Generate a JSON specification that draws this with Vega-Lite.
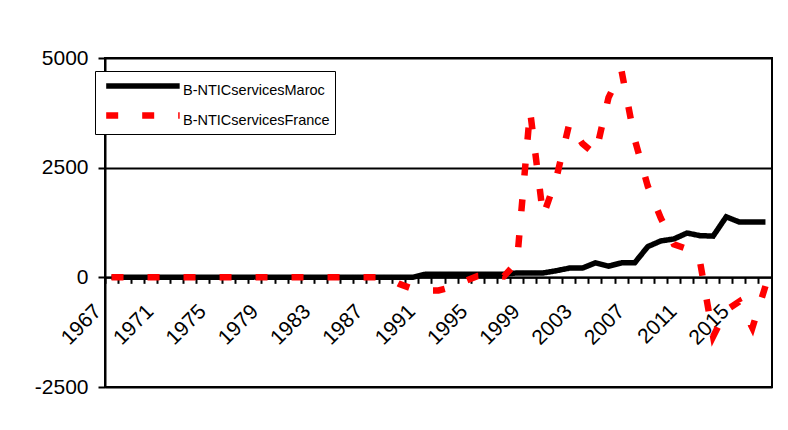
{
  "$schema": "https://vega.github.io/schema/vega-lite/v6.json",
  "width": 667,
  "height": 329,
  "autosize": {"type": "none"},
  "padding": {"left": 105, "top": 58, "right": 16, "bottom": 43},
  "background": "white",
  "config": {
    "view": {"stroke": "black", "strokeWidth": 2},
    "font": "Liberation Sans",
    "axis": {"labelFont": "Liberation Sans", "labelColor": "black", "domainColor": "black", "tickColor": "black"}
  },
  "data": {
    "values": [
      {"year": "1967", "series": "B-NTICservicesMaroc", "value": 0},
      {"year": "1968", "series": "B-NTICservicesMaroc", "value": 0},
      {"year": "1969", "series": "B-NTICservicesMaroc", "value": 0},
      {"year": "1970", "series": "B-NTICservicesMaroc", "value": 0},
      {"year": "1971", "series": "B-NTICservicesMaroc", "value": 0},
      {"year": "1972", "series": "B-NTICservicesMaroc", "value": 0},
      {"year": "1973", "series": "B-NTICservicesMaroc", "value": 0},
      {"year": "1974", "series": "B-NTICservicesMaroc", "value": 0},
      {"year": "1975", "series": "B-NTICservicesMaroc", "value": 0},
      {"year": "1976", "series": "B-NTICservicesMaroc", "value": 0},
      {"year": "1977", "series": "B-NTICservicesMaroc", "value": 0},
      {"year": "1978", "series": "B-NTICservicesMaroc", "value": 0},
      {"year": "1979", "series": "B-NTICservicesMaroc", "value": 0},
      {"year": "1980", "series": "B-NTICservicesMaroc", "value": 0},
      {"year": "1981", "series": "B-NTICservicesMaroc", "value": 0},
      {"year": "1982", "series": "B-NTICservicesMaroc", "value": 0},
      {"year": "1983", "series": "B-NTICservicesMaroc", "value": 0},
      {"year": "1984", "series": "B-NTICservicesMaroc", "value": 0},
      {"year": "1985", "series": "B-NTICservicesMaroc", "value": 0},
      {"year": "1986", "series": "B-NTICservicesMaroc", "value": 0},
      {"year": "1987", "series": "B-NTICservicesMaroc", "value": 0},
      {"year": "1988", "series": "B-NTICservicesMaroc", "value": 0},
      {"year": "1989", "series": "B-NTICservicesMaroc", "value": 0},
      {"year": "1990", "series": "B-NTICservicesMaroc", "value": 0},
      {"year": "1991", "series": "B-NTICservicesMaroc", "value": 70},
      {"year": "1992", "series": "B-NTICservicesMaroc", "value": 70},
      {"year": "1993", "series": "B-NTICservicesMaroc", "value": 70},
      {"year": "1994", "series": "B-NTICservicesMaroc", "value": 70},
      {"year": "1995", "series": "B-NTICservicesMaroc", "value": 70},
      {"year": "1996", "series": "B-NTICservicesMaroc", "value": 70},
      {"year": "1997", "series": "B-NTICservicesMaroc", "value": 70},
      {"year": "1998", "series": "B-NTICservicesMaroc", "value": 100},
      {"year": "1999", "series": "B-NTICservicesMaroc", "value": 100},
      {"year": "2000", "series": "B-NTICservicesMaroc", "value": 100},
      {"year": "2001", "series": "B-NTICservicesMaroc", "value": 150},
      {"year": "2002", "series": "B-NTICservicesMaroc", "value": 210},
      {"year": "2003", "series": "B-NTICservicesMaroc", "value": 210},
      {"year": "2004", "series": "B-NTICservicesMaroc", "value": 330},
      {"year": "2005", "series": "B-NTICservicesMaroc", "value": 255},
      {"year": "2006", "series": "B-NTICservicesMaroc", "value": 330},
      {"year": "2007", "series": "B-NTICservicesMaroc", "value": 330},
      {"year": "2008", "series": "B-NTICservicesMaroc", "value": 700},
      {"year": "2009", "series": "B-NTICservicesMaroc", "value": 830},
      {"year": "2010", "series": "B-NTICservicesMaroc", "value": 875},
      {"year": "2011", "series": "B-NTICservicesMaroc", "value": 1010},
      {"year": "2012", "series": "B-NTICservicesMaroc", "value": 950},
      {"year": "2013", "series": "B-NTICservicesMaroc", "value": 940},
      {"year": "2014", "series": "B-NTICservicesMaroc", "value": 1380},
      {"year": "2015", "series": "B-NTICservicesMaroc", "value": 1260},
      {"year": "2016", "series": "B-NTICservicesMaroc", "value": 1260},
      {"year": "2017", "series": "B-NTICservicesMaroc", "value": 1260},
      {"year": "1967", "series": "B-NTICservicesFrance", "value": 0},
      {"year": "1968", "series": "B-NTICservicesFrance", "value": 0},
      {"year": "1969", "series": "B-NTICservicesFrance", "value": 0},
      {"year": "1970", "series": "B-NTICservicesFrance", "value": 0},
      {"year": "1971", "series": "B-NTICservicesFrance", "value": 0},
      {"year": "1972", "series": "B-NTICservicesFrance", "value": 0},
      {"year": "1973", "series": "B-NTICservicesFrance", "value": 0},
      {"year": "1974", "series": "B-NTICservicesFrance", "value": 0},
      {"year": "1975", "series": "B-NTICservicesFrance", "value": 0},
      {"year": "1976", "series": "B-NTICservicesFrance", "value": 0},
      {"year": "1977", "series": "B-NTICservicesFrance", "value": 0},
      {"year": "1978", "series": "B-NTICservicesFrance", "value": 0},
      {"year": "1979", "series": "B-NTICservicesFrance", "value": 0},
      {"year": "1980", "series": "B-NTICservicesFrance", "value": 0},
      {"year": "1981", "series": "B-NTICservicesFrance", "value": 0},
      {"year": "1982", "series": "B-NTICservicesFrance", "value": 0},
      {"year": "1983", "series": "B-NTICservicesFrance", "value": 0},
      {"year": "1984", "series": "B-NTICservicesFrance", "value": 0},
      {"year": "1985", "series": "B-NTICservicesFrance", "value": 0},
      {"year": "1986", "series": "B-NTICservicesFrance", "value": 0},
      {"year": "1987", "series": "B-NTICservicesFrance", "value": 0},
      {"year": "1988", "series": "B-NTICservicesFrance", "value": 0},
      {"year": "1989", "series": "B-NTICservicesFrance", "value": -150},
      {"year": "1990", "series": "B-NTICservicesFrance", "value": -260},
      {"year": "1991", "series": "B-NTICservicesFrance", "value": -300},
      {"year": "1992", "series": "B-NTICservicesFrance", "value": -300},
      {"year": "1993", "series": "B-NTICservicesFrance", "value": -220},
      {"year": "1994", "series": "B-NTICservicesFrance", "value": -90},
      {"year": "1995", "series": "B-NTICservicesFrance", "value": 30},
      {"year": "1996", "series": "B-NTICservicesFrance", "value": 50},
      {"year": "1997", "series": "B-NTICservicesFrance", "value": 20},
      {"year": "1998", "series": "B-NTICservicesFrance", "value": 350},
      {"year": "1999", "series": "B-NTICservicesFrance", "value": 3800},
      {"year": "2000", "series": "B-NTICservicesFrance", "value": 1400},
      {"year": "2001", "series": "B-NTICservicesFrance", "value": 2250},
      {"year": "2002", "series": "B-NTICservicesFrance", "value": 3500},
      {"year": "2003", "series": "B-NTICservicesFrance", "value": 3050},
      {"year": "2004", "series": "B-NTICservicesFrance", "value": 2800},
      {"year": "2005", "series": "B-NTICservicesFrance", "value": 4100},
      {"year": "2006", "series": "B-NTICservicesFrance", "value": 4700},
      {"year": "2007", "series": "B-NTICservicesFrance", "value": 3150},
      {"year": "2008", "series": "B-NTICservicesFrance", "value": 2080},
      {"year": "2009", "series": "B-NTICservicesFrance", "value": 1350},
      {"year": "2010", "series": "B-NTICservicesFrance", "value": 750},
      {"year": "2011", "series": "B-NTICservicesFrance", "value": 650},
      {"year": "2012", "series": "B-NTICservicesFrance", "value": 350},
      {"year": "2013", "series": "B-NTICservicesFrance", "value": -1350},
      {"year": "2014", "series": "B-NTICservicesFrance", "value": -750},
      {"year": "2015", "series": "B-NTICservicesFrance", "value": -550},
      {"year": "2016", "series": "B-NTICservicesFrance", "value": -1150},
      {"year": "2017", "series": "B-NTICservicesFrance", "value": -200}
    ]
  },
  "mark": {"type": "line", "strokeCap": "butt", "strokeJoin": "miter"},
  "encoding": {
    "x": {
      "field": "year",
      "type": "ordinal",
      "sort": "ascending",
      "scale": {"type": "band", "paddingInner": 0, "paddingOuter": 0},
      "axis": {
        "title": null,
        "bandPosition": 0,
        "offset": -109.67,
        "domainWidth": 2,
        "tickSize": 6,
        "tickWidth": 2,
        "labelAngle": -45,
        "labelAlign": "right",
        "labelBaseline": "top",
        "labelFontSize": 21,
        "labelPadding": 17,
        "labelOffset": -21,
        "labelOverlap": false,
        "labelExpr": "(+datum.value - 1967) % 4 == 0 ? datum.value : ''"
      }
    },
    "y": {
      "field": "value",
      "type": "quantitative",
      "scale": {"domain": [-2500, 5000], "nice": false, "zero": false},
      "axis": {
        "title": null,
        "orient": "left",
        "values": [-2500, 0, 2500, 5000],
        "labelExpr": "datum.value < 0 ? '-' + abs(datum.value) : '' + datum.value",
        "grid": true,
        "gridColor": "black",
        "gridWidth": 2,
        "gridOpacity": 1,
        "domainWidth": 2,
        "tickSize": 7,
        "tickWidth": 2,
        "labelFontSize": 21,
        "labelPadding": 10,
        "labelFlush": false
      }
    },
    "color": {
      "field": "series",
      "type": "nominal",
      "sort": ["B-NTICservicesMaroc", "B-NTICservicesFrance"],
      "scale": {"domain": ["B-NTICservicesMaroc", "B-NTICservicesFrance"], "range": ["#000000", "#ff0000"]},
      "legend": {
        "title": null,
        "orient": "none",
        "legendX": -10,
        "legendY": 13,
        "strokeColor": "black",
        "fillColor": "white",
        "padding": 5,
        "symbolType": "M-0.76,-0.4H5.24",
        "symbolSize": 600,
        "symbolStrokeWidth": 6,
        "labelFontSize": 14.5,
        "labelColor": "black",
        "labelOffset": 52,
        "rowPadding": 4
      }
    },
    "strokeDash": {
      "field": "series",
      "type": "nominal",
      "sort": ["B-NTICservicesMaroc", "B-NTICservicesFrance"],
      "scale": {"domain": ["B-NTICservicesMaroc", "B-NTICservicesFrance"], "range": [[1, 0], [12, 24]]},
      "legend": null
    },
    "strokeWidth": {
      "field": "series",
      "type": "nominal",
      "sort": ["B-NTICservicesMaroc", "B-NTICservicesFrance"],
      "scale": {"domain": ["B-NTICservicesMaroc", "B-NTICservicesFrance"], "range": [5.5, 6.5]},
      "legend": null
    }
  }
}
